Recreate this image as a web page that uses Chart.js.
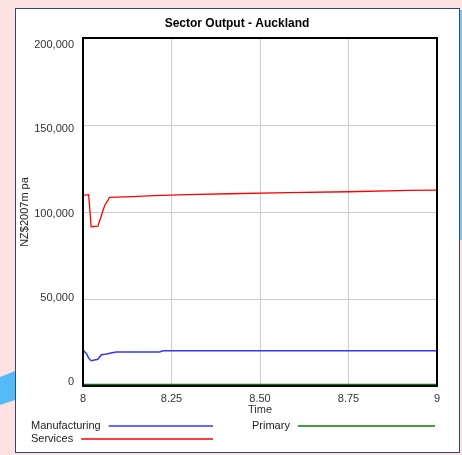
<!DOCTYPE html>
<html><head><meta charset="utf-8">
<script src="https://cdn.jsdelivr.net/npm/chart.js@4/dist/chart.umd.min.js"></script>
<style>
html,body{margin:0;padding:0;width:462px;height:455px;overflow:hidden;background:#fde2e2;}
#panel{position:absolute;left:15px;top:8px;width:443px;height:443px;background:#fff;border:1px solid #2c4a78;}
#blueL{position:absolute;left:0;top:0;width:15px;height:455px;background:#55baf5;clip-path:polygon(0 377px,15px 371px,15px 400px,0 405px);}
#blueR{position:absolute;left:460px;top:10px;width:2px;height:230px;background:#7cc6f0;}
#c{position:absolute;left:0;top:0;}
</style></head>
<body>
<div id="blueL"></div><div id="blueR"></div><div id="panel"></div>
<canvas id="c" width="462" height="455"></canvas>
<script>
const chartTitle = 'Sector Output - Auckland';
const seriesNames = ['Manufacturing', 'Services', 'Primary'];
const seriesColors = ['#3535ff', '#ff0000', '#008000'];
const times         = [8, 8.01, 8.016, 8.023, 8.042, 8.052, 8.061, 8.071, 8.075, 8.094, 8.14, 8.216, 8.226, 8.293, 8.415, 8.579, 8.749, 8.924, 9];
const manufacturing = [20700, 18600, 16000, 14540, 15340, 17990, 18200, 18560, 18800, 19540, 19540, 19540, 20290, 20290, 20290, 20290, 20290, 20290, 20290];
const services      = [109600, 109800, 109950, 91550, 91900, 98000, 103600, 107000, 108450, 108500, 108800, 109600, 109600, 109950, 110500, 111100, 111650, 112450, 112600];
const primary       = [900, 900, 900, 900, 900, 900, 900, 900, 900, 900, 900, 900, 900, 900, 900, 900, 900, 900, 900];
const xTicks = [8, 8.25, 8.5, 8.75, 9];
const xTickLabels = ['8', '8.25', '8.50', '8.75', '9'];
const yTicks = [0, 50000, 100000, 150000, 200000];
const yTickLabels = ['0', '50,000', '100,000', '150,000', '200,000'];

const FONT = 'Liberation Sans, Arial, sans-serif';
const pts = arr => times.map((t, i) => ({x: t, y: arr[i]}));

const frameAndText = {
  id: 'frameAndText',
  afterDraw(chart) {
    const ctx = chart.ctx, a = chart.chartArea;
    ctx.save();
    ctx.strokeStyle = '#000';
    ctx.lineWidth = 2;
    ctx.strokeRect(a.left, a.top, a.right - a.left, a.bottom - a.top);
    // y tick labels (spread slightly inward like the original renderer)
    const ys = chart.scales.y;
    ctx.font = '11px ' + FONT;
    ctx.fillStyle = '#333';
    ctx.textAlign = 'right';
    ctx.textBaseline = 'middle';
    yTicks.forEach((v, i) => {
      const frac = (v - ys.min) / (ys.max - ys.min);
      const off = -4 + 11 * frac;
      ctx.fillText(yTickLabels[i], a.left - 9, ys.getPixelForValue(v) + off);
    });
    // title
    ctx.fillStyle = '#000';
    ctx.font = 'bold 12px ' + FONT;
    ctx.textAlign = 'center';
    ctx.fillText(chartTitle, 237, 24);
    // legend
    const slots = [{ds: 0, x: 31, end: 213, y: 426}, {ds: 2, x: 252, end: 435, y: 426}, {ds: 1, x: 31, end: 213, y: 439}];
    ctx.font = '11px ' + FONT;
    ctx.textAlign = 'left';
    slots.forEach(s => {
      const name = seriesNames[s.ds];
      ctx.fillStyle = '#222';
      ctx.fillText(name, s.x, s.y);
      const w = ctx.measureText(name).width;
      ctx.strokeStyle = seriesColors[s.ds];
      ctx.lineWidth = 1.4;
      ctx.beginPath();
      ctx.moveTo(s.x + w + 8, s.y);
      ctx.lineTo(s.end, s.y);
      ctx.stroke();
    });
    ctx.restore();
  }
};

new Chart(document.getElementById('c'), {
  type: 'line',
  data: {
    datasets: [
      {label: seriesNames[0], data: pts(manufacturing), borderColor: seriesColors[0], borderWidth: 1.5, pointRadius: 0, tension: 0},
      {label: seriesNames[1], data: pts(services), borderColor: seriesColors[1], borderWidth: 1.3, pointRadius: 0, tension: 0},
      {label: seriesNames[2], data: pts(primary), borderColor: seriesColors[2], borderWidth: 1.3, pointRadius: 0, tension: 0}
    ]
  },
  options: {
    responsive: false,
    animation: false,
    devicePixelRatio: 1,
    layout: {padding: {left: 15, top: 38, right: 25, bottom: 0}},
    plugins: {legend: {display: false}, title: {display: false}, tooltip: {enabled: false}},
    scales: {
      x: {
        type: 'linear', min: 8, max: 9,
        afterBuildTicks: s => { s.ticks = xTicks.map(v => ({value: v})); },
        afterFit: s => { s.height = 69; },
        ticks: {callback: (v, i) => xTickLabels[i], font: {size: 11, family: FONT}, color: '#333', padding: 6, maxRotation: 0, autoSkip: false},
        grid: {color: '#cccccc', drawTicks: false, lineWidth: 1},
        border: {color: '#000', width: 2},
        title: {display: true, text: 'Time', font: {size: 11, family: FONT}, color: '#333', padding: {top: 0, bottom: 38}}
      },
      y: {
        min: 0, max: 200000,
        afterBuildTicks: s => { s.ticks = yTicks.map(v => ({value: v})); },
        afterFit: s => { s.width = 68; },
        ticks: {display: false},
        grid: {color: '#cccccc', drawTicks: false, lineWidth: 1},
        border: {color: '#000', width: 2},
        title: {display: true, text: 'NZ$2007m pa', font: {size: 11, family: FONT}, color: '#222', padding: {top: 3, bottom: 0}}
      }
    }
  },
  plugins: [frameAndText]
});
</script>
</body></html>
